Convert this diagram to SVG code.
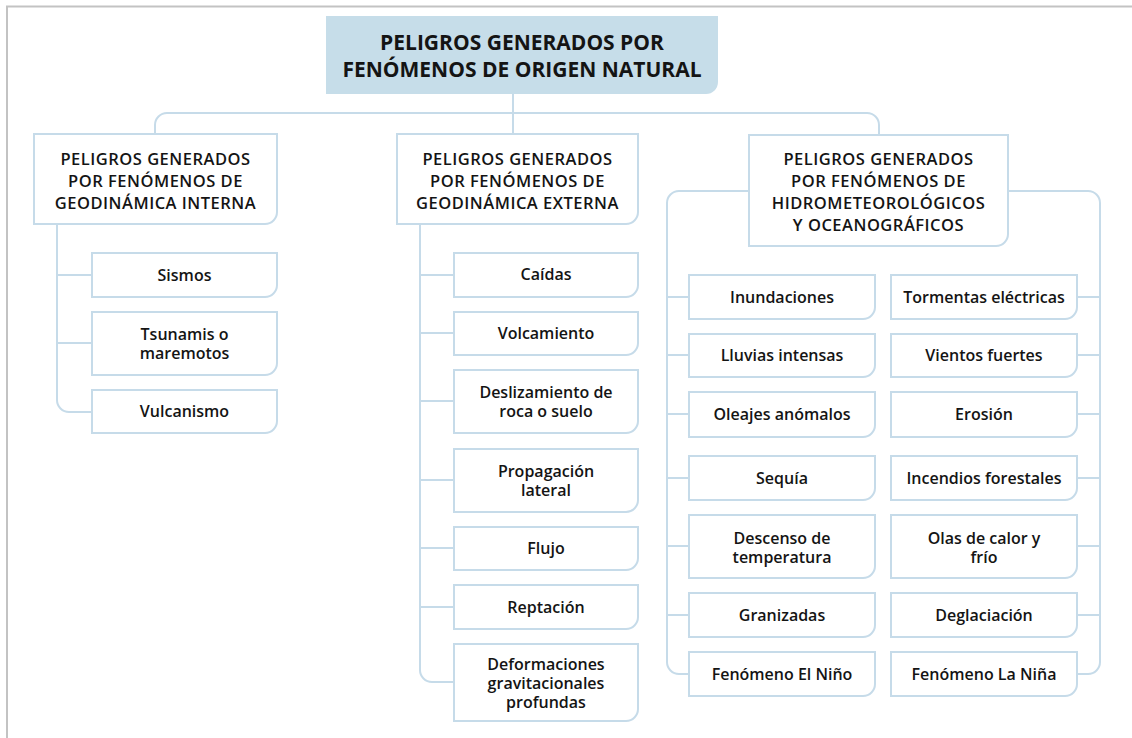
<svg xmlns="http://www.w3.org/2000/svg" width="1132" height="738" viewBox="0 0 1132 738">
<style>
.frame{fill:none;stroke:#c3c3c3;stroke-width:2}
.box{fill:#ffffff;stroke:#c6dbe9;stroke-width:2}
.top{fill:#c6dde9;stroke:none}
.con{fill:none;stroke:#c6dbe9;stroke-width:2}
text{font-family:"Open Sans","Liberation Sans",sans-serif;fill:#141414;text-anchor:middle;dominant-baseline:central}
.h{font-size:16.5px;font-weight:600;letter-spacing:0.5px}
.t{font-size:21px;font-weight:700}
.c{font-size:16px;font-weight:600}
</style>
<path class="frame" d="M7 738 V6.5 H1132"/>
<g id="connectors">
<path class="con" d="M513 94 V134"/>
<path class="con" d="M155 134 V125 A12 12 0 0 1 167 113 H867 A12 12 0 0 1 879 125 V135"/>
<path class="con" d="M57 224 V400 A12 12 0 0 0 69 412 H92 M57 275 H92 M57 343 H92"/>
<path class="con" d="M420 224 V670 A12 12 0 0 0 432 682 H454 M420 275 H454 M420 333 H454 M420 401 H454 M420 480 H454 M420 548 H454 M420 607 H454"/>
<path class="con" d="M749 191 H679 A12 12 0 0 0 667 203 V662 A12 12 0 0 0 679 674 H689 M667 297 H689 M667 355 H689 M667 414 H689 M667 478 H689 M667 546 H689 M667 615 H689"/>
<path class="con" d="M1008 191 H1088 A12 12 0 0 1 1100 203 V662 A12 12 0 0 1 1088 674 H1077 M1077 297 H1100 M1077 355 H1100 M1077 414 H1100 M1077 478 H1100 M1077 546 H1100 M1077 615 H1100"/>
</g>
<g id="root">
<path class="top" d="M326 16 H718 V82 A12 12 0 0 1 706 94 H326 Z"/>
<text class="t" x="522" y="42">PELIGROS GENERADOS POR</text>
<text class="t" x="522" y="69">FENÓMENOS DE ORIGEN NATURAL</text>
</g>
<g id="interna">
<path class="box" d="M34 134 H277 V212 A12 12 0 0 1 265 224 H34 Z"/>
<text class="h" x="155.5" y="158">PELIGROS GENERADOS</text>
<text class="h" x="155.5" y="180">POR FENÓMENOS DE</text>
<text class="h" x="155.5" y="202">GEODINÁMICA INTERNA</text>
</g>
<g id="externa">
<path class="box" d="M397 134 H638 V212 A12 12 0 0 1 626 224 H397 Z"/>
<text class="h" x="517.5" y="158">PELIGROS GENERADOS</text>
<text class="h" x="517.5" y="180">POR FENÓMENOS DE</text>
<text class="h" x="517.5" y="202">GEODINÁMICA EXTERNA</text>
</g>
<g id="hidro">
<path class="box" d="M749 135 H1008 V234 A12 12 0 0 1 996 246 H749 Z"/>
<text class="h" x="878.5" y="158">PELIGROS GENERADOS</text>
<text class="h" x="878.5" y="180">POR FENÓMENOS DE</text>
<text class="h" x="878.5" y="202">HIDROMETEOROLÓGICOS</text>
<text class="h" x="878.5" y="224">Y OCEANOGRÁFICOS</text>
</g>
<g id="sismos"><path class="box" d="M92 253 H277 V285 A12 12 0 0 1 265 297 H92 Z"/><text class="c" x="184.5" y="275">Sismos</text></g>
<g id="tsunamis"><path class="box" d="M92 312 H277 V363 A12 12 0 0 1 265 375 H92 Z"/><text class="c" x="184.5" y="334">Tsunamis o</text><text class="c" x="184.5" y="353">maremotos</text></g>
<g id="vulcanismo"><path class="box" d="M92 390 H277 V421 A12 12 0 0 1 265 433 H92 Z"/><text class="c" x="184.5" y="411">Vulcanismo</text></g>
<g id="caidas"><path class="box" d="M454 253 H638 V285 A12 12 0 0 1 626 297 H454 Z"/><text class="c" x="546" y="274">Caídas</text></g>
<g id="volcamiento"><path class="box" d="M454 312 H638 V343 A12 12 0 0 1 626 355 H454 Z"/><text class="c" x="546" y="333">Volcamiento</text></g>
<g id="deslizamiento"><path class="box" d="M454 370 H638 V421 A12 12 0 0 1 626 433 H454 Z"/><text class="c" x="546" y="392">Deslizamiento de</text><text class="c" x="546" y="411">roca o suelo</text></g>
<g id="propagacion"><path class="box" d="M454 449 H638 V500 A12 12 0 0 1 626 512 H454 Z"/><text class="c" x="546" y="471">Propagación</text><text class="c" x="546" y="490">lateral</text></g>
<g id="flujo"><path class="box" d="M454 527 H638 V558 A12 12 0 0 1 626 570 H454 Z"/><text class="c" x="546" y="548">Flujo</text></g>
<g id="reptacion"><path class="box" d="M454 585 H638 V617 A12 12 0 0 1 626 629 H454 Z"/><text class="c" x="546" y="607">Reptación</text></g>
<g id="deformaciones"><path class="box" d="M454 644 H638 V709 A12 12 0 0 1 626 721 H454 Z"/><text class="c" x="546" y="664">Deformaciones</text><text class="c" x="546" y="683">gravitacionales</text><text class="c" x="546" y="702">profundas</text></g>
<g id="inundaciones"><path class="box" d="M689 275 H875 V307 A12 12 0 0 1 863 319 H689 Z"/><text class="c" x="782" y="297">Inundaciones</text></g>
<g id="lluvias"><path class="box" d="M689 334 H875 V365 A12 12 0 0 1 863 377 H689 Z"/><text class="c" x="782" y="355">Lluvias intensas</text></g>
<g id="oleajes"><path class="box" d="M689 392 H875 V425 A12 12 0 0 1 863 437 H689 Z"/><text class="c" x="782" y="414">Oleajes anómalos</text></g>
<g id="sequia"><path class="box" d="M689 456 H875 V488 A12 12 0 0 1 863 500 H689 Z"/><text class="c" x="782" y="478">Sequía</text></g>
<g id="descenso"><path class="box" d="M689 515 H875 V566 A12 12 0 0 1 863 578 H689 Z"/><text class="c" x="782" y="538">Descenso de</text><text class="c" x="782" y="557">temperatura</text></g>
<g id="granizadas"><path class="box" d="M689 593 H875 V625 A12 12 0 0 1 863 637 H689 Z"/><text class="c" x="782" y="615">Granizadas</text></g>
<g id="nino"><path class="box" d="M689 652 H875 V684 A12 12 0 0 1 863 696 H689 Z"/><text class="c" x="782" y="674">Fenómeno El Niño</text></g>
<g id="tormentas"><path class="box" d="M891 275 H1077 V307 A12 12 0 0 1 1065 319 H891 Z"/><text class="c" x="984" y="297">Tormentas eléctricas</text></g>
<g id="vientos"><path class="box" d="M891 334 H1077 V365 A12 12 0 0 1 1065 377 H891 Z"/><text class="c" x="984" y="355">Vientos fuertes</text></g>
<g id="erosion"><path class="box" d="M891 392 H1077 V425 A12 12 0 0 1 1065 437 H891 Z"/><text class="c" x="984" y="414">Erosión</text></g>
<g id="incendios"><path class="box" d="M891 456 H1077 V488 A12 12 0 0 1 1065 500 H891 Z"/><text class="c" x="984" y="478">Incendios forestales</text></g>
<g id="olas"><path class="box" d="M891 515 H1077 V566 A12 12 0 0 1 1065 578 H891 Z"/><text class="c" x="984" y="538">Olas de calor y</text><text class="c" x="984" y="557">frío</text></g>
<g id="deglaciacion"><path class="box" d="M891 593 H1077 V625 A12 12 0 0 1 1065 637 H891 Z"/><text class="c" x="984" y="615">Deglaciación</text></g>
<g id="nina"><path class="box" d="M891 652 H1077 V684 A12 12 0 0 1 1065 696 H891 Z"/><text class="c" x="984" y="674">Fenómeno La Niña</text></g>
</svg>
